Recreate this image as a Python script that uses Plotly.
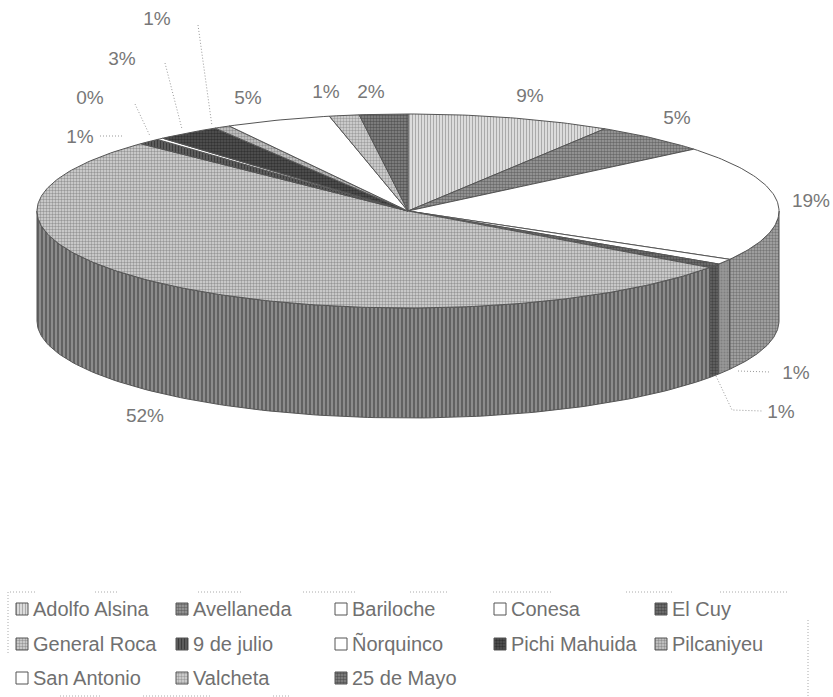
import numpy as np
import plotly.graph_objects as go

categories = ["Adolfo Alsina", "Avellaneda", "Bariloche", "Conesa", "El Cuy", "General Roca", "9 de julio",
              "Ñorquinco", "Pichi Mahuida", "Pilcaniyeu", "San Antonio", "Valcheta", "25 de Mayo"]
values = [8.9, 5.1, 19.3, 0.9, 0.7, 52.3, 1.0, 0.3, 2.8, 0.7, 4.6, 1.3, 2.1]

# (fg, bg, pattern shape, pattern size, solidity) for tops
top_styles = [
    ("#777777", "#dcdcdc", "|", 3, 0.35),
    ("#333333", "#a0a0a0", ".", 3, 0.55),
    ("#ffffff", "#ffffff", "", 3, 0.3),
    ("#ffffff", "#ffffff", "", 3, 0.3),
    ("#222222", "#777777", ".", 3, 0.55),
    ("#555555", "#d8d8d8", ".", 3, 0.5),
    ("#111111", "#666666", "|", 3, 0.5),
    ("#ffffff", "#ffffff", "", 3, 0.3),
    ("#111111", "#555555", ".", 3, 0.55),
    ("#555555", "#cccccc", ".", 3, 0.5),
    ("#ffffff", "#ffffff", "", 3, 0.3),
    ("#666666", "#d8d8d8", ".", 3, 0.5),
    ("#222222", "#8a8a8a", ".", 3, 0.55),
]
side_styles = {
    2: ("#444444", "#aaaaaa", ".", 3, 0.5),
    3: ("#666666", "#999999", ".", 3, 0.4),
    4: ("#222222", "#666666", ".", 3, 0.5),
    5: ("#222222", "#8c8c8c", "|", 4, 0.4),
}

CX, CY, RX, RY, DEPTH = 408, 211, 371, 97, 110
OUTLINE = "#555555"

# Label centres in page pixels (hand-placed in the reference), slice order
label_pos = [(530, 97), (677, 119), (811, 202), (796, 374), (781, 413), (145, 417), (80, 138),
             (90, 99), (122, 60), (157, 20), (248, 99), (326, 93), (371, 93)]
leaders = {
    3: [(738, 371), (770, 372)],
    4: [(716, 376), (732, 410), (762, 411)],
    6: [(100, 136), (122, 136)],
    7: [(135, 104), (150, 136)],
    8: [(165, 63), (182, 129)],
    9: [(198, 25), (212, 126)],
}

fig = go.Figure()


def rim(a, dy=0.0):
    return CX + RX * np.sin(a), CY - RY * np.cos(a) + dy


def add_poly(x, y, style, width=1.0):
    fg, bg, shape, size, sol = style
    fig.add_trace(go.Scatter(
        x=x, y=y, mode="lines", fill="toself",
        line=dict(color=OUTLINE, width=width),
        fillcolor=bg,
        fillpattern=dict(shape=shape, fgcolor=fg, bgcolor=bg, size=size, solidity=sol),
        hoverinfo="skip", showlegend=False))


edges = np.cumsum([0] + values) / sum(values) * 2 * np.pi

# sides: the part of each slice facing the viewer, between right and left extremes
for i in sorted(side_styles, reverse=True):
    a0, a1 = max(edges[i], np.pi / 2), min(edges[i + 1], 3 * np.pi / 2)
    if a1 <= a0:
        continue
    t = np.linspace(a0, a1, 120)
    x0, y0 = rim(t)
    x1, y1 = rim(t[::-1], DEPTH)
    add_poly(np.r_[x0, x1, x0[0]], np.r_[y0, y1, y0[0]], side_styles[i])

# tops
for i in range(len(values)):
    t = np.linspace(edges[i], edges[i + 1], max(4, int(values[i] * 4)))
    x, y = rim(t)
    add_poly(np.r_[CX, x, CX], np.r_[CY, y, CY], top_styles[i])

# leader lines
for pts in leaders.values():
    fig.add_trace(go.Scatter(x=[p[0] for p in pts], y=[p[1] for p in pts], mode="lines",
                             line=dict(color="#999999", width=1, dash="1px,2px"),
                             hoverinfo="skip", showlegend=False))

# data labels
fig.add_trace(go.Scatter(
    x=[p[0] for p in label_pos], y=[p[1] for p in label_pos], mode="text",
    text=[f"{v / sum(values) * 100:.0f}%" for v in values],
    textposition="middle center",
    textfont=dict(family="Liberation Sans", size=19, color="#777777"),
    hoverinfo="skip", showlegend=False))

# legend grid
LEG_X = [16, 176, 335, 494, 655]
LEG_Y = [609, 644, 678]
SW = 12
tx, ty, tt = [], [], []
for i, name in enumerate(categories):
    lx, ly = LEG_X[i % 5], LEG_Y[i // 5]
    add_poly([lx, lx + SW, lx + SW, lx, lx], [ly - SW / 2, ly - SW / 2, ly + SW / 2, ly + SW / 2, ly - SW / 2],
             top_styles[i], width=1)
    tx.append(lx + SW + 5)
    ty.append(ly + 2)
    tt.append(name)
fig.add_trace(go.Scatter(x=tx, y=ty, mode="text", text=tt, textposition="middle right",
                         textfont=dict(family="Liberation Sans", size=20, color="#707070"),
                         hoverinfo="skip", showlegend=False))

# legend frame fragments
frame = [((10, 592), (37, 592)), ((95, 592), (118, 592)), ((198, 592), (243, 592)), ((303, 592), (357, 592)),
         ((410, 592), (448, 592)), ((493, 592), (552, 592)), ((626, 592), (673, 592)), ((720, 592), (788, 592)),
         ((8, 592), (8, 655)), ((808, 620), (808, 697)), ((60, 696), (102, 696)), ((143, 696), (210, 696)),
         ((273, 696), (290, 696))]
shapes = [dict(type="line", x0=a[0], y0=a[1], x1=b[0], y1=b[1], xref="x", yref="y",
               line=dict(color="#aaaaaa", width=1, dash="1px,2px")) for a, b in frame]

fig.update_layout(
    width=833, height=697, margin=dict(l=0, r=0, t=0, b=0),
    paper_bgcolor="white", plot_bgcolor="white", showlegend=False, shapes=shapes,
    xaxis=dict(range=[0, 833], visible=False, fixedrange=True),
    yaxis=dict(range=[697, 0], visible=False, fixedrange=True),
)
fig.write_html("out.html", config={"displayModeBar": False},
               post_script="document.body.style.margin='0';document.body.style.overflow='hidden';")
